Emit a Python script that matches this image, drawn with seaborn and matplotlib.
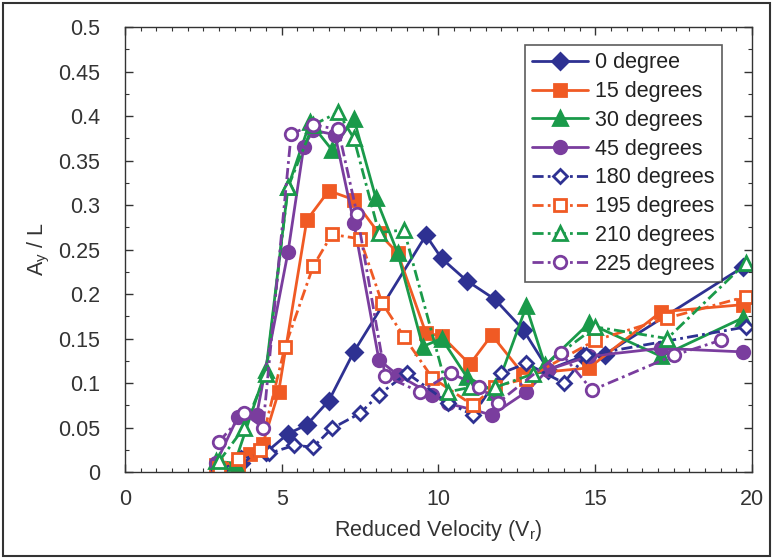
import matplotlib
matplotlib.use("Agg")
import matplotlib.pyplot as plt
import seaborn as sns
import numpy as np
from matplotlib.patches import Rectangle
from matplotlib.ticker import MultipleLocator

# ---------------- data ----------------
x_0 = [3.0, 3.7, 4.5, 5.2, 5.8, 6.5, 7.3, 9.6, 10.1, 10.9, 11.8, 12.7, 13.5, 14.6, 15.3, 19.7]
y_0 = [0.005, 0.01, 0.022, 0.043, 0.053, 0.08, 0.135, 0.266, 0.24, 0.215, 0.194, 0.16, 0.115, 0.13, 0.132, 0.23]

x_15 = [2.9, 3.6, 4.0, 4.4, 4.9, 5.8, 6.5, 7.3, 8.1, 8.7, 9.6, 10.1, 11.0, 11.7, 12.7, 14.8, 17.1, 19.7]
y_15 = [0.008, 0.008, 0.02, 0.032, 0.09, 0.283, 0.316, 0.306, 0.268, 0.246, 0.156, 0.153, 0.121, 0.154, 0.11, 0.117, 0.18, 0.188]

x_30 = [2.9, 3.5, 4.5, 5.2, 5.9, 6.6, 7.3, 8.0, 8.7, 9.5, 10.1, 10.9, 11.8, 12.8, 13.4, 14.8, 17.1, 19.7]
y_30 = [0.012, 0.01, 0.115, 0.32, 0.393, 0.362, 0.397, 0.308, 0.246, 0.141, 0.15, 0.107, 0.09, 0.186, 0.12, 0.167, 0.13, 0.173]

x_45 = [2.9, 3.6, 4.2, 5.2, 5.7, 6.0, 6.7, 7.3, 8.1, 8.7, 9.8, 10.3, 11.1, 11.7, 12.8, 13.5, 14.8, 17.1, 19.7]
y_45 = [0.01, 0.062, 0.064, 0.247, 0.365, 0.384, 0.379, 0.28, 0.126, 0.109, 0.087, 0.077, 0.07, 0.064, 0.09, 0.115, 0.13, 0.139, 0.135]

x_180 = [3.0, 3.7, 4.6, 5.4, 6.0, 6.6, 7.5, 8.1, 9.0, 10.3, 11.1, 12.0, 12.8, 14.0, 14.7, 19.8]
y_180 = [0.002, 0.016, 0.021, 0.03, 0.028, 0.049, 0.066, 0.087, 0.111, 0.078, 0.064, 0.111, 0.122, 0.1, 0.131, 0.163]

x_195 = [3.0, 3.6, 4.3, 5.1, 6.0, 6.6, 7.5, 8.2, 8.9, 9.8, 11.1, 11.8, 12.8, 15.0, 17.3, 19.8]
y_195 = [0.005, 0.015, 0.025, 0.14, 0.231, 0.267, 0.262, 0.19, 0.152, 0.106, 0.075, 0.096, 0.105, 0.148, 0.173, 0.197]

x_210 = [3.0, 3.8, 4.5, 5.2, 6.0, 6.8, 7.3, 8.1, 8.9, 10.3, 11.0, 11.8, 13.0, 15.0, 17.3, 19.8]
y_210 = [0.012, 0.05, 0.11, 0.32, 0.39, 0.404, 0.375, 0.269, 0.272, 0.09, 0.095, 0.095, 0.11, 0.163, 0.15, 0.235]

x_225 = [3.0, 3.8, 4.4, 5.3, 6.0, 6.8, 7.4, 8.3, 9.4, 10.4, 11.3, 11.9, 13.9, 14.9, 17.5, 19.0]
y_225 = [0.034, 0.066, 0.05, 0.38, 0.39, 0.385, 0.29, 0.108, 0.09, 0.111, 0.096, 0.078, 0.134, 0.092, 0.131, 0.148]

labels = ["0 degree", "15 degrees", "30 degrees", "45 degrees",
          "180 degrees", "195 degrees", "210 degrees", "225 degrees"]

# ---------------- style ----------------
sns.set_style("white")
plt.rcParams['font.family'] = ['Liberation Sans', 'DejaVu Sans']

navy = "#2e3192"
orange = "#f05a24"
green = "#1a9a4a"
purple = "#7a3d9e"

series = [
    (x_0, y_0, navy, "D", True, 8),
    (x_15, y_15, orange, "s", True, 9),
    (x_30, y_30, green, "^", True, 10),
    (x_45, y_45, purple, "o", True, 9),
    (x_180, y_180, navy, "D", False, 7),
    (x_195, y_195, orange, "s", False, 9),
    (x_210, y_210, green, "^", False, 10),
    (x_225, y_225, purple, "o", False, 9),
]

FS = 15.5

fig = plt.figure(figsize=(7.73, 5.59), dpi=100)
ax = fig.add_axes([0.1617, 0.1556, 0.8111, 0.7961])

for (xs, ys, col, mk, filled, ms), lab in zip(series, labels):
    kw = dict(color=col, marker=mk, markersize=ms, linewidth=2.0,
              markeredgecolor=col, markeredgewidth=2.0)
    if filled:
        kw.update(markerfacecolor=col, linestyle="-")
    else:
        kw.update(markerfacecolor="white", dashes=(4, 1.5, 1, 1.5))
    sns.lineplot(x=xs, y=ys, ax=ax, sort=False, errorbar=None, label=lab, **kw)

ax.set_xlim(0, 20)
ax.set_ylim(0, 0.5)
ax.xaxis.set_minor_locator(MultipleLocator(0.5))
ax.yaxis.set_minor_locator(MultipleLocator(0.025))
ax.set_yticks(np.arange(0, 0.501, 0.05))
ax.set_yticklabels(["0", "0.05", "0.1", "0.15", "0.2", "0.25", "0.3", "0.35", "0.4", "0.45", "0.5"])
ax.set_xticks([0, 5, 10, 15, 20])
ax.set_xticklabels(["0", "5", "10", "15", "20"])

ax.tick_params(which="both", direction="in", top=True, right=True, bottom=True, left=True,
               colors="#333333", labelcolor="#333333", labelsize=FS)
ax.tick_params(which="major", length=6, width=1)
ax.tick_params(which="minor", length=3, width=0.8)
ax.tick_params(axis="x", pad=12)
ax.tick_params(axis="y", pad=18)
for s in ax.spines.values():
    s.set_color("#333333")
    s.set_linewidth(1.0)

ax.set_xlabel("Reduced Velocity (V$_\\mathregular{r}$)", fontsize=FS, color="#333333", labelpad=6)
ax.set_ylabel("A$_\\mathregular{y}$ / L", fontsize=FS, color="#333333", labelpad=4)

leg = ax.legend(loc="upper right", bbox_to_anchor=(0.952, 0.96), fontsize=FS,
                frameon=True, fancybox=False, edgecolor="#333333",
                handlelength=2.6, handletextpad=0.3, labelspacing=0.36,
                borderpad=0.35, borderaxespad=0.0)
leg.get_frame().set_linewidth(1.2)
for t in leg.get_texts():
    t.set_color("#222222")

# outer frame around the figure
fig.patches.append(Rectangle((0.004, 0.006), 0.992, 0.988, transform=fig.transFigure,
                             fill=False, edgecolor="#333333", linewidth=1.5))

fig.savefig("out.png", dpi=100)
